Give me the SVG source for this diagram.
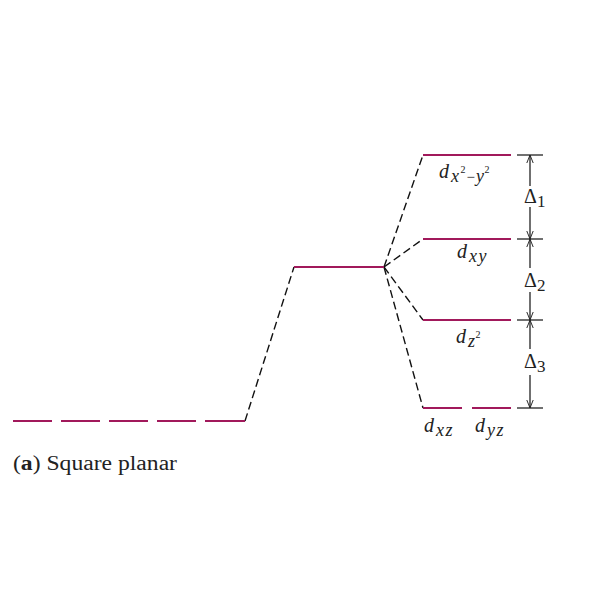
<svg xmlns="http://www.w3.org/2000/svg" width="600" height="600" viewBox="0 0 600 600">
<defs>
<marker id="ah" viewBox="0 0 10 10" refX="10" refY="5" markerWidth="8" markerHeight="8" markerUnits="userSpaceOnUse" orient="auto">
<path d="M0,1 L10,5 L0,9" fill="none" stroke="#222" stroke-width="1.2"/>
</marker>
</defs>
<style>
.lvl{stroke:#a1195b;stroke-width:2.2;fill:none}
.dash{stroke:#111;stroke-width:1.4;stroke-dasharray:8 4;fill:none}
.dim{stroke:#222;stroke-width:1.3;fill:none}
.lab{font-family:"Liberation Serif","Times New Roman",serif;font-style:italic;fill:#222;font-size:20px}
.sub{font-size:18px;letter-spacing:1.5px}
.sup{font-size:10px;font-style:normal}
.dl{font-family:"Liberation Serif","Times New Roman",serif;fill:#222}
</style>
<rect width="600" height="600" fill="#fff"/>
<g id="connectors">
<line class="dash" x1="245" y1="421" x2="294" y2="267"/>
<line class="dash" x1="384" y1="267" x2="423" y2="155"/>
<line class="dash" x1="384" y1="267" x2="423" y2="239"/>
<line class="dash" x1="384" y1="267" x2="423" y2="320"/>
<line class="dash" x1="384" y1="267" x2="423" y2="408"/>
</g>
<g id="free-ion">
<line class="lvl" x1="13" y1="421" x2="52" y2="421"/>
<line class="lvl" x1="61" y1="421" x2="100" y2="421"/>
<line class="lvl" x1="109" y1="421" x2="148" y2="421"/>
<line class="lvl" x1="157" y1="421" x2="196" y2="421"/>
<line class="lvl" x1="205" y1="421" x2="245" y2="421"/>
</g>
<g id="barycenter">
<line class="lvl" x1="294" y1="267" x2="384" y2="267"/>
</g>
<g id="dx2y2">
<line class="lvl" x1="423" y1="155" x2="511" y2="155"/>
<text class="lab" x="439" y="178">d<tspan class="sub" dx="2" dy="4">x</tspan><tspan class="sup" dy="-9">2</tspan><tspan font-size="15" font-style="normal" dx="1" dy="9">−</tspan><tspan class="sub" dx="1">y</tspan><tspan class="sup" dx="-1" dy="-9">2</tspan></text>
</g>
<g id="dxy">
<line class="lvl" x1="423" y1="239" x2="511" y2="239"/>
<text class="lab" x="457" y="258">d<tspan class="sub" dx="2" dy="4">xy</tspan></text>
</g>
<g id="dz2">
<line class="lvl" x1="423" y1="320" x2="511" y2="320"/>
<text class="lab" x="456" y="343">d<tspan class="sub" dx="2" dy="4">z</tspan><tspan class="sup" dx="-1" dy="-9">2</tspan></text>
</g>
<g id="dxz">
<line class="lvl" x1="423" y1="408" x2="462" y2="408"/>
<text class="lab" x="424" y="432">d<tspan class="sub" dx="2" dy="4">xz</tspan></text>
</g>
<g id="dyz">
<line class="lvl" x1="472" y1="408" x2="511" y2="408"/>
<text class="lab" x="475" y="432">d<tspan class="sub" dx="2" dy="4">yz</tspan></text>
</g>
<g id="deltas">
<line class="dim" x1="517" y1="155" x2="543" y2="155"/>
<line class="dim" x1="517" y1="239" x2="543" y2="239"/>
<line class="dim" x1="517" y1="320" x2="543" y2="320"/>
<line class="dim" x1="517" y1="408" x2="543" y2="408"/>
<line class="dim" x1="530" y1="186" x2="530" y2="155" marker-end="url(#ah)"/>
<line class="dim" x1="530" y1="207" x2="530" y2="239" marker-end="url(#ah)"/>
<line class="dim" x1="530" y1="268" x2="530" y2="239" marker-end="url(#ah)"/>
<line class="dim" x1="530" y1="292" x2="530" y2="320" marker-end="url(#ah)"/>
<line class="dim" x1="530" y1="349" x2="530" y2="320" marker-end="url(#ah)"/>
<line class="dim" x1="530" y1="375" x2="530" y2="408" marker-end="url(#ah)"/>
<text class="dl" x="524" y="203" font-size="20">Δ<tspan font-size="17" dy="4">1</tspan></text>
<text class="dl" x="524" y="287" font-size="20">Δ<tspan font-size="17" dy="4">2</tspan></text>
<text class="dl" x="524" y="368" font-size="20">Δ<tspan font-size="17" dy="4">3</tspan></text>
</g>
<text class="dl" x="13" y="470" font-size="20" textLength="164" lengthAdjust="spacingAndGlyphs">(<tspan font-weight="bold">a</tspan>) Square planar</text>
</svg>
